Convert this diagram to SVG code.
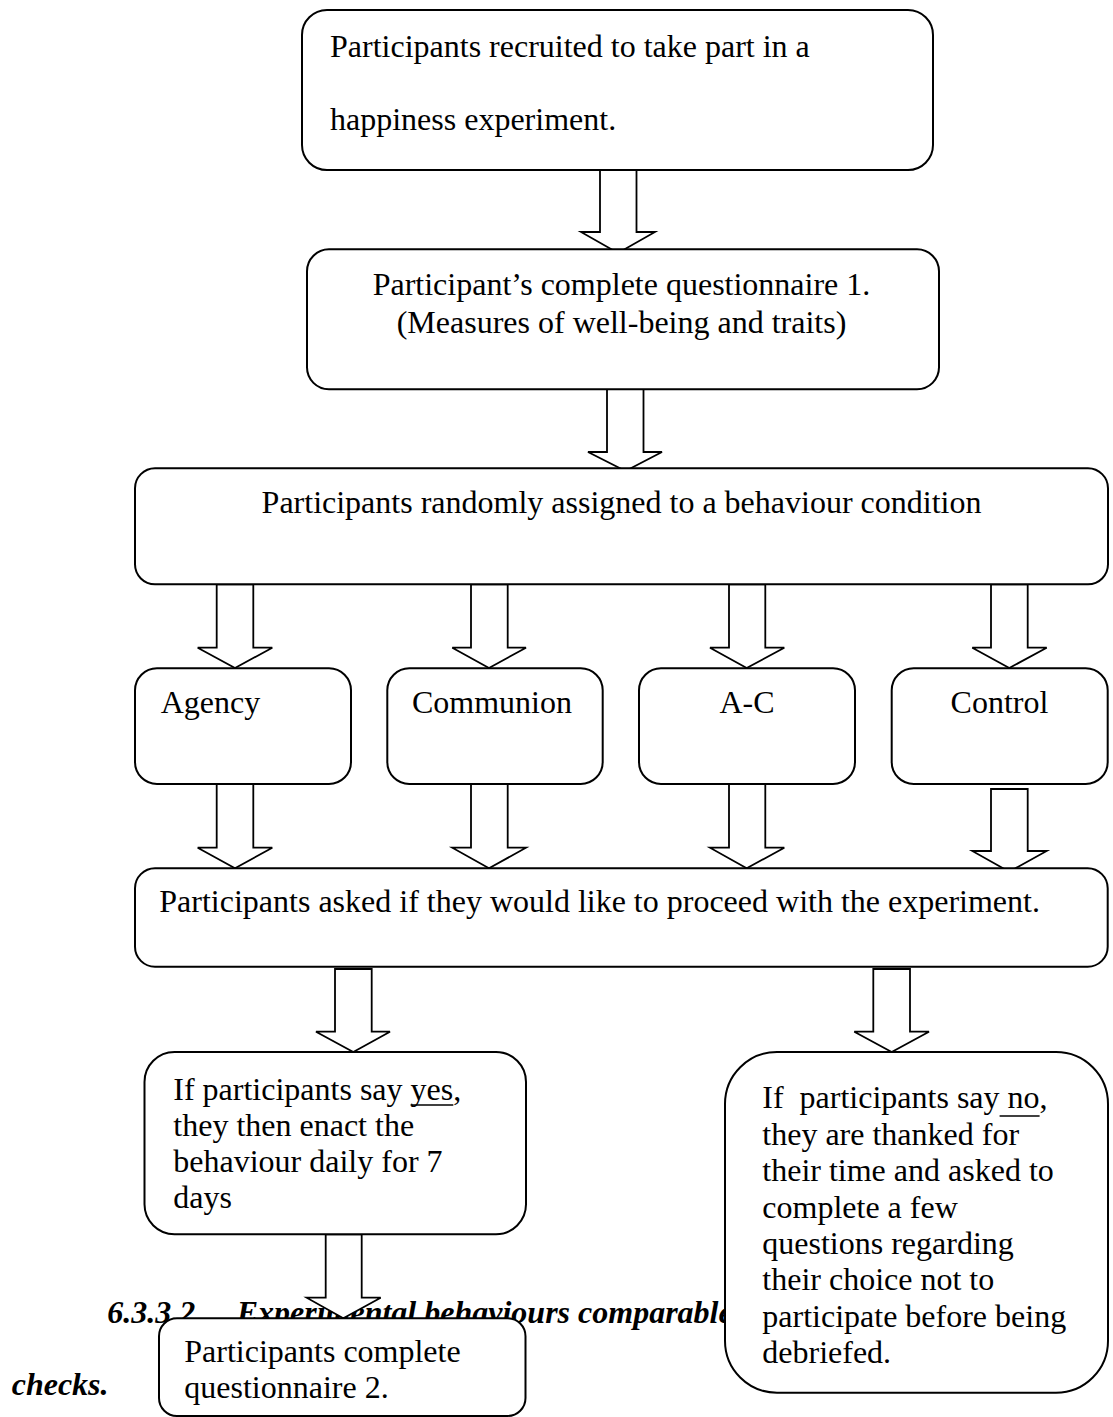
<svg xmlns="http://www.w3.org/2000/svg" width="1113" height="1417" viewBox="0 0 1113 1417">
<style>
  .box { fill: #ffffff; stroke: #000000; stroke-width: 2; }
  .arrow { fill: #ffffff; stroke: #000000; stroke-width: 1.8; stroke-linejoin: miter; }
  .t { font-family: "Liberation Serif", "Times New Roman", serif; font-size: 32px; fill: #000000; }
  .mid { text-anchor: middle; }
  .h { font-family: "Liberation Serif", "Times New Roman", serif; font-size: 32px; font-weight: bold; font-style: italic; fill: #000000; }
  .ul { stroke: #000000; stroke-width: 1.6; }
</style>
<rect x="0" y="0" width="1113" height="1417" fill="#ffffff"/>

<g id="heading">
  <text class="h" x="107.3" y="1322.7">6.3.3.2</text>
  <text class="h" x="236.7" y="1322.7">Experimental behaviours comparable</text>
  <text class="h" x="11.7" y="1395">checks.</text>
</g>

<g id="connectors">
  <polygon class="arrow" points="600,169 636.5,169 636.5,232 655,232 618,253 581,232 600,232"/>
  <polygon class="arrow" points="607,389 643.5,389 643.5,452 662,452 625.5,471 588,452 607,452"/>
  <polygon class="arrow" points="216.7,584.3 253.3,584.3 253.3,647.7 272.3,647.7 235,668 197.7,647.7 216.7,647.7"/>
  <polygon class="arrow" points="471,584.3 507.7,584.3 507.7,647.7 526,647.7 489,668 452.3,647.7 471,647.7"/>
  <polygon class="arrow" points="729,584.3 765.3,584.3 765.3,647.7 784.3,647.7 746.7,668 710,647.7 729,647.7"/>
  <polygon class="arrow" points="991,584.3 1027.7,584.3 1027.7,647.7 1046.7,647.7 1009.3,668 972.3,647.7 991,647.7"/>
  <polygon class="arrow" points="216.7,784 253.3,784 253.3,847.7 272.3,847.7 235,868.3 197.7,847.7 216.7,847.7"/>
  <polygon class="arrow" points="471,784 507.7,784 507.7,847.7 526,847.7 489,868.3 452.3,847.7 471,847.7"/>
  <polygon class="arrow" points="729,784 765.3,784 765.3,847.7 784.3,847.7 746.7,868.3 710,847.7 729,847.7"/>
  <polygon class="arrow" points="991,789 1027.7,789 1027.7,851 1046.7,851 1009.3,871.7 972.3,851 991,851"/>
  <polygon class="arrow" points="335,969 371.7,969 371.7,1031.7 390,1031.7 353.3,1052 316,1031.7 335,1031.7"/>
  <polygon class="arrow" points="873.3,969 910,969 910,1031.7 929,1031.7 891.7,1052 854.3,1031.7 873.3,1031.7"/>
  <polygon class="arrow" points="325.7,1234.3 361.7,1234.3 361.7,1297.7 380.7,1297.7 343.3,1318.3 306.7,1297.7 325.7,1297.7"/>
</g>

<g id="recruited">
  <rect class="box" x="302" y="10" width="631" height="160" rx="25" ry="25"/>
  <text class="t" x="330" y="57">Participants recruited to take part in a</text>
  <text class="t" x="330" y="130">happiness experiment.</text>
</g>

<g id="questionnaire1">
  <rect class="box" x="307" y="249.3" width="632" height="140" rx="22" ry="22"/>
  <text class="t mid" x="621.5" y="295">Participant’s complete questionnaire 1.</text>
  <text class="t mid" x="621.5" y="332.7">(Measures of well-being and traits)</text>
</g>

<g id="assigned">
  <rect class="box" x="135" y="468.3" width="973" height="116" rx="20" ry="20"/>
  <text class="t mid" x="621.5" y="512.7">Participants randomly assigned to a behaviour condition</text>
</g>

<g id="agency">
  <rect class="box" x="135" y="668.3" width="216" height="115.7" rx="22" ry="22"/>
  <text class="t" x="160.7" y="713.3">Agency</text>
</g>

<g id="communion">
  <rect class="box" x="387.3" y="668.3" width="215.4" height="115.7" rx="22" ry="22"/>
  <text class="t mid" x="492" y="713.3">Communion</text>
</g>

<g id="ac">
  <rect class="box" x="639" y="668.3" width="216" height="115.7" rx="22" ry="22"/>
  <text class="t mid" x="747" y="713.3">A-C</text>
</g>

<g id="control">
  <rect class="box" x="891.7" y="668.3" width="216" height="115.7" rx="22" ry="22"/>
  <text class="t mid" x="999.5" y="713.3">Control</text>
</g>

<g id="proceed">
  <rect class="box" x="135" y="868.3" width="972.7" height="98.4" rx="20" ry="20"/>
  <text class="t" x="159.3" y="911.7">Participants asked if they would like to proceed with the experiment.</text>
</g>

<g id="yes">
  <rect class="box" x="144.5" y="1052" width="381.5" height="182.3" rx="30" ry="30"/>
  <text class="t" x="173.3" y="1100">If participants say yes,</text>
  <line class="ul" x1="410.6" y1="1105" x2="453.3" y2="1105"/>
  <text class="t" x="173.3" y="1135.5">they then enact the</text>
  <text class="t" x="173.3" y="1171.7">behaviour daily for 7</text>
  <text class="t" x="173.3" y="1208.3">days</text>
</g>

<g id="no">
  <rect class="box" x="725" y="1052" width="383" height="340.7" rx="52" ry="52"/>
  <text class="t" x="762.3" y="1108.3" xml:space="preserve">If  participants say no,</text>
  <line class="ul" x1="999.6" y1="1116" x2="1039.6" y2="1116"/>
  <text class="t" x="762.3" y="1144.7">they are thanked for</text>
  <text class="t" x="762.3" y="1181.1">their time and asked to</text>
  <text class="t" x="762.3" y="1217.5">complete a few</text>
  <text class="t" x="762.3" y="1253.9">questions regarding</text>
  <text class="t" x="762.3" y="1290.3">their choice not to</text>
  <text class="t" x="762.3" y="1326.7">participate before being</text>
  <text class="t" x="762.3" y="1363.1">debriefed.</text>
</g>

<g id="questionnaire2">
  <rect class="box" x="159" y="1318.3" width="366.5" height="97.7" rx="18" ry="18"/>
  <text class="t" x="184.3" y="1361.7">Participants complete</text>
  <text class="t" x="184.3" y="1398.3">questionnaire 2.</text>
</g>
</svg>
